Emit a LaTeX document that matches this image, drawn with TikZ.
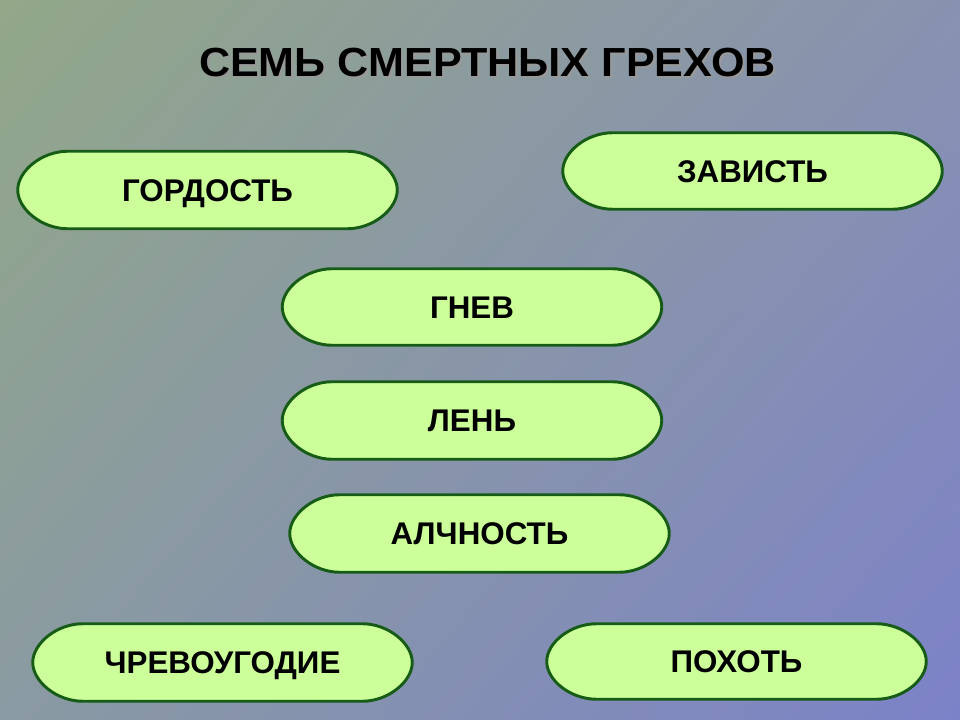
\documentclass[tikz,border=0pt]{standalone}
\usepackage{fontspec}
\setmainfont{Liberation Sans}
\usetikzlibrary{calc,backgrounds,shadings}
\definecolor{pillfill}{RGB}{204,255,153}
\definecolor{pillline}{RGB}{22,92,22}
\definecolor{bgtl}{RGB}{146,168,136}
\definecolor{bgtr}{RGB}{136,146,176}
\definecolor{bgbl}{RGB}{138,154,162}
\definecolor{bgbr}{RGB}{124,130,200}
\tikzset{
  pill/.style={rectangle, inner sep=0pt, minimum width=379*0.75pt, minimum height=77*0.75pt,
    font=\fontsize{23.5}{26}\selectfont\bfseries, text=black, text height=16.8pt, text depth=0pt},
  pillborder/.style={draw=pillline, line width=2.2pt, fill=pillfill, line join=round},
  titletext/.style={font=\fontsize{30.5}{34}\selectfont\bfseries, text height=21.8pt, text depth=0pt},
}
\newcommand\pillshape[1]{%
  \draw[pillborder] ($(#1.north west)+(50,0)$) -- ($(#1.north east)+(-50,0)$)
    .. controls ($(#1.north east)+(-24,0)$) and ($(#1.east)+(0,-19)$) .. (#1.east)
    .. controls ($(#1.east)+(0,19)$) and ($(#1.south east)+(-24,0)$) .. ($(#1.south east)+(-50,0)$)
    -- ($(#1.south west)+(50,0)$)
    .. controls ($(#1.south west)+(24,0)$) and ($(#1.west)+(0,19)$) .. (#1.west)
    .. controls ($(#1.west)+(0,-19)$) and ($(#1.north west)+(24,0)$) .. ($(#1.north west)+(50,0)$) -- cycle;}
\newcommand\titlestr{\scalebox{1.06}[1]{СЕМЬ СМЕРТНЫХ ГРЕХОВ}}
\begin{document}
\begin{tikzpicture}[x=0.75pt,y=-0.75pt]
\useasboundingbox (0,0) rectangle (960,720);
\node[pill] (gord) at (207.5,190) {ГОРДОСТЬ};
\node[pill, minimum height=76*0.75pt] (zav) at (752.5,171) {ЗАВИСТЬ};
\node[pill, minimum height=76*0.75pt] (gnev) at (472,307) {ГНЕВ};
\node[pill] (len) at (472,420.5) {ЛЕНЬ};
\node[pill] (alch) at (479.5,533.5) {АЛЧНОСТЬ};
\node[pill] (chrev) at (222.5,662.5) {ЧРЕВОУГОДИЕ};
\node[pill, minimum height=75*0.75pt] (poh) at (736.5,661.5) {ПОХОТЬ};
\node[titletext, text=black!40] (titleshadow) at (489.5,63.5) {\titlestr};
\node[titletext, text=black] (title) at (487.5,61.5) {\titlestr};
\begin{scope}[on background layer]
  \fill[upper left=bgtl, upper right=bgtr, lower left=bgbl, lower right=bgbr] (0,0) rectangle (960,720);
  \pillshape{gord}
  \pillshape{zav}
  \pillshape{gnev}
  \pillshape{len}
  \pillshape{alch}
  \pillshape{chrev}
  \pillshape{poh}
\end{scope}
\end{tikzpicture}
\end{document}
